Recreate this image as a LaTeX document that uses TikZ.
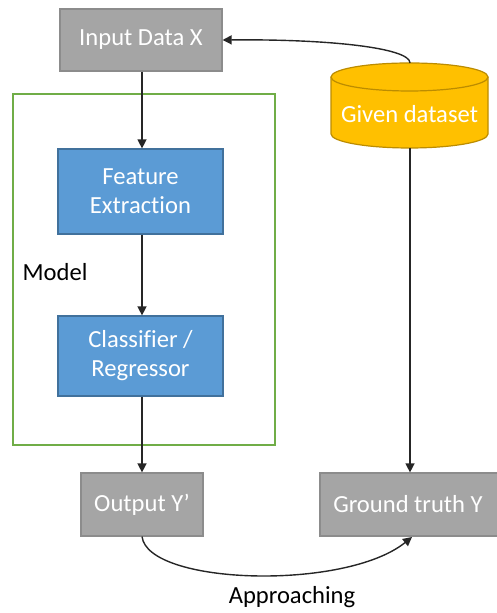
\documentclass[tikz,border=0pt]{standalone}
\usepackage{fontspec}
\setmainfont{Carlito}[Ligatures=NoCommon]
\usetikzlibrary{arrows.meta}
\definecolor{boxgray}{HTML}{A5A5A5}
\definecolor{boxgrayline}{HTML}{8C8C8C}
\definecolor{boxblue}{HTML}{5B9BD5}
\definecolor{boxblueline}{HTML}{41719C}
\definecolor{dbyellow}{HTML}{FFC000}
\definecolor{dbyellowline}{HTML}{BC8C00}
\definecolor{modelgreen}{HTML}{70AD47}
\tikzset{
  graybox/.style={draw=boxgrayline, fill=boxgray, line width=0.6pt, text=white, font=\fontsize{12.3}{14.5}\selectfont, align=center, inner sep=0pt},
  bluebox/.style={draw=boxblueline, fill=boxblue, line width=0.6pt, text=white, font=\fontsize{12.3}{14.5}\selectfont, align=center, inner sep=0pt, minimum width=82.5pt},
  conn/.style={line width=0.7pt, draw=black!85, -{Triangle[length=4.5pt,width=4.5pt]}},
  plaintext/.style={text=black, font=\fontsize{12.3}{14.5}\selectfont, inner sep=0pt}
}
\begin{document}
\begin{tikzpicture}[x=0.5pt,y=0.5pt]
\useasboundingbox (0,0) rectangle (496,613);
% model frame
\draw[modelgreen, line width=0.6pt] (13,168) rectangle (275,519);
\node[plaintext] (model) at (55,341) {Model};
% boxes
\node[graybox, minimum width=81pt, minimum height=31pt] (input) at (141,573) {Input Data X};
\node[bluebox, minimum height=42.5pt] (feat) at (140.5,421.5) {Feature\\Extraction};
\node[bluebox, minimum height=40pt] (clf) at (140.5,257) {Classifier /\\Regressor};
\node[graybox, minimum width=61pt, minimum height=31.5pt] (out) at (142,108.5) {Output Y’};
\node[graybox, minimum width=90pt, minimum height=31.5pt] (gt) at (410,108.5) {};
\node[text=white, font=\fontsize{12.3}{14.5}\selectfont, inner sep=0pt] (gtl) at (408,108.5) {Ground truth Y};
% cylinder
\fill[dbyellow] (331,536) -- (331,479) arc[start angle=180, end angle=360, x radius=78.5, y radius=14] -- (488,536) arc[start angle=0, end angle=180, x radius=78.5, y radius=14] -- cycle;
\draw[dbyellowline, line width=0.6pt] (331,536) -- (331,479) arc[start angle=180, end angle=360, x radius=78.5, y radius=14] -- (488,536);
\draw[dbyellowline, line width=0.6pt] (409.5,536) ellipse[x radius=78.5, y radius=14];
\node[inner sep=0pt, minimum width=78.5pt, minimum height=42.5pt] (db) at (409.5,507.5) {};
\node[text=white, font=\fontsize{12.3}{14.5}\selectfont, inner sep=0pt] (dbl) at (409.5,499) {Given dataset};
\coordinate (dbtop) at (410,550);
\coordinate (dbbot) at (410,465);
% connectors
\draw[conn] (input.south -| 142,0) -- (feat.north -| 142,0);
\draw[conn] (feat.south -| 142,0) -- (clf.north -| 142,0);
\draw[conn] (clf.south -| 142,0) -- (out.north -| 142,0);
\draw[conn] (dbbot) -- (gt.north -| dbbot);
\draw[conn] (dbtop) .. controls (410,565) and (330,574) .. (input.east);
\coordinate (gtin) at (412,76);
\draw[conn] (out.south) .. controls (148,28) and (345,22) .. (gtin);
\node[plaintext] (appr) at (292,16) {Approaching};
\end{tikzpicture}
\end{document}
